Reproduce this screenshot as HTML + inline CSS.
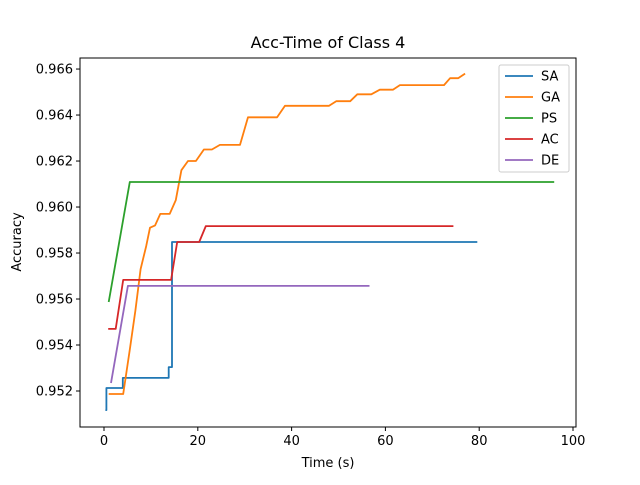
<!DOCTYPE html>
<html><head><meta charset="utf-8"><style>
body{margin:0;background:#fff;font-family:"Liberation Sans","DejaVu Sans",sans-serif}
svg text{font-family:"DejaVu Sans","Liberation Sans",sans-serif}
</style></head><body>
<svg id="chart" width="640" height="480" xmlns="http://www.w3.org/2000/svg"></svg>
<script>
const xTicks=[0,20,40,60,80,100];
const yTicks=[0.952,0.954,0.956,0.958,0.960,0.962,0.964,0.966];
const seriesNames=["SA","GA","PS","AC","DE"];
const colors=["#1f77b4","#ff7f0e","#2ca02c","#d62728","#9467bd"];
const saT=[0.3,0.5,0.5,4,4,13.8,13.8,14.5,14.5,79.6];
const saV=[0.95117,0.95117,0.95213,0.95213,0.95257,0.95257,0.95304,0.95304,0.95848,0.95848];
const gaT=[1,4.1,5.5,6.7,7.8,9,9.8,10.9,12,14,15.3,16.5,17.9,19.6,21.3,23,24.7,29,30.7,36.9,38.6,48,49.5,52.5,54,57,58.8,61.6,63.1,72.5,73.8,75.5,77];
const gaV=[0.95187,0.95187,0.9538,0.9555,0.9573,0.9583,0.9591,0.9592,0.9597,0.9597,0.9603,0.9616,0.9620,0.9620,0.9625,0.9625,0.9627,0.9627,0.9639,0.9639,0.9644,0.9644,0.9646,0.9646,0.9649,0.9649,0.9651,0.9651,0.9653,0.9653,0.9656,0.9656,0.9658];
const psT=[1,5.5,96];
const psV=[0.95587,0.96109,0.96109];
const acT=[0.9,2.5,4.1,14.3,15.6,20.3,21.7,74.5];
const acV=[0.9547,0.9547,0.95683,0.95683,0.95848,0.95848,0.95917,0.95917];
const deT=[1.5,5.1,56.6];
const deV=[0.95235,0.95657,0.95657];
const seriesT=[saT,gaT,psT,acT,deT];
const seriesV=[saV,gaV,psV,acV,deV];

const L=80,R=576,T=58,B=427;
const xMin=-5.12,xMax=100.64,yMin=0.950435,yMax=0.96648;
const xs=t=>L+(t-xMin)/(xMax-xMin)*(R-L);
const ys=v=>B-(v-yMin)/(yMax-yMin)*(B-T);
const NS="http://www.w3.org/2000/svg";
const svg=document.getElementById('chart');
function mk(tag,attrs,parent){const e=document.createElementNS(NS,tag);for(const k in attrs)e.setAttribute(k,attrs[k]);(parent||svg).appendChild(e);return e;}

const title=mk('text',{x:328,y:48,'text-anchor':'middle','font-size':16,fill:'#000'});


title.textContent='Acc-Time of Class 4';

seriesT.forEach((ts,i)=>{
  const pts=ts.map((t,j)=>xs(t).toFixed(1)+','+ys(seriesV[i][j]).toFixed(1)).join(' ');
  const pl=mk('polyline',{points:pts,fill:'none',stroke:colors[i],'stroke-width':1.8,'stroke-linejoin':'round'});
  
  
});

const frame=mk('rect',{x:L,y:T,width:R-L,height:B-T,fill:'none',stroke:'#000','stroke-width':1});



xTicks.forEach(t=>{
  const x=xs(t);
  mk('line',{x1:x,x2:x,y1:B,y2:B+4,stroke:'#000'});
  const tx=mk('text',{x:x,y:B+18,'text-anchor':'middle','font-size':13,fill:'#000'});
  
  
  tx.textContent=t;
});
yTicks.forEach(v=>{
  const y=ys(v);
  mk('line',{x1:L-4,x2:L,y1:y,y2:y,stroke:'#000'});
  const tx=mk('text',{x:L-7,y:y+4.5,'text-anchor':'end','font-size':13,fill:'#000'});
  
  
  tx.textContent=v.toFixed(3);
});
const xl=mk('text',{x:328,y:467,'text-anchor':'middle','font-size':13,fill:'#000'});


xl.textContent='Time (s)';
const yl=mk('text',{x:21,y:242,'text-anchor':'middle','font-size':13,fill:'#000',transform:'rotate(-90 21 242)'});


yl.textContent='Accuracy';

const lg=mk('g',{});


mk('rect',{x:499,y:65,width:70,height:107,rx:2,fill:'#fff','fill-opacity':0.8,stroke:'#ccc'},lg);
seriesNames.forEach((n,i)=>{
  const y=76+i*21;
  const g=mk('g',{},lg);
  
  
  mk('line',{x1:505,x2:533,y1:y,y2:y,stroke:colors[i],'stroke-width':1.8},g);
  const t=mk('text',{x:541,y:y+4.5,'font-size':13,fill:'#000'},g);
  t.textContent=n;
});
</script>
</body></html>
